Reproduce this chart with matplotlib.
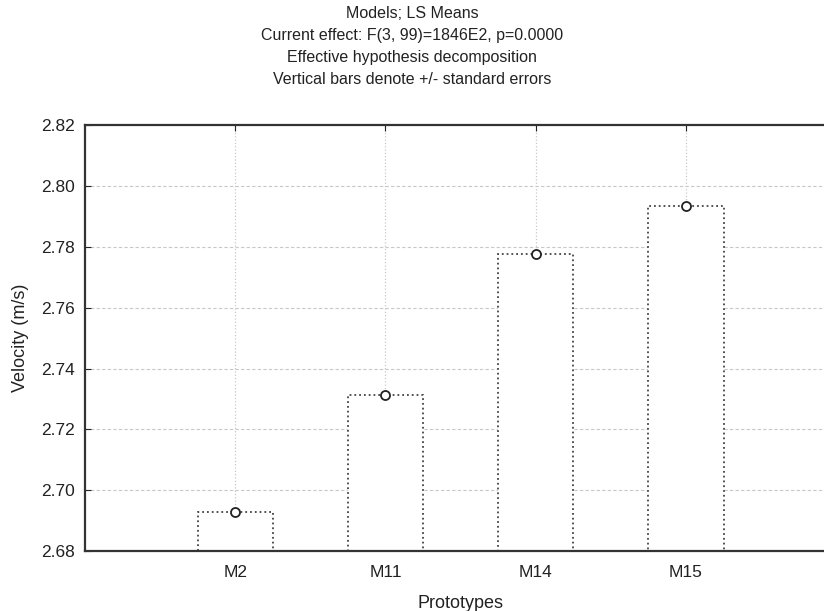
import numpy as np
import matplotlib.pyplot as plt

# LS means
models = ['M2', 'M11', 'M14', 'M15']
means = [2.6928, 2.7314, 2.7777, 2.7934]
std_err = [0.0004, 0.0004, 0.0004, 0.0004]
yticks = [2.68, 2.70, 2.72, 2.74, 2.76, 2.78, 2.80, 2.82]

title_lines = ['Models; LS Means',
               'Current effect: F(3, 99)=1846E2, p=0.0000',
               'Effective hypothesis decomposition',
               'Vertical bars denote +/- standard errors']

plt.rcParams['font.family'] = ['Liberation Sans', 'DejaVu Sans']

fig = plt.figure(figsize=(8.24, 6.11), dpi=100)
ax = fig.add_axes([0.103, 0.098, 0.912, 0.697])

x = np.arange(len(models))

# grid under the bars
for v in yticks[1:-1]:
    ax.axhline(v, color='#c8c8c8', linestyle=(0, (3, 2)), linewidth=0.8, zorder=0)
for xi in x:
    ax.axvline(xi, color='#c8c8c8', linestyle=':', linewidth=0.9, zorder=0)

ax.bar(x, means, width=0.5, bottom=0, color='white', edgecolor='#444444',
       linestyle=':', linewidth=1.3, zorder=2)
ax.errorbar(x, means, yerr=std_err, fmt='o', color='#222222', markerfacecolor='white',
            markeredgecolor='#222222', markersize=6.5, markeredgewidth=1.3,
            elinewidth=1.5, capsize=0, zorder=3)

ax.set_xlim(-1, 4)
ax.set_ylim(2.68, 2.82)
ax.set_xticks(x)
ax.set_xticklabels(models)
ax.set_yticks(yticks)
ax.set_yticklabels(['%.2f' % v for v in yticks])
ax.tick_params(direction='in', top=True, labelsize=12.5, colors='#222222', length=4)
ax.tick_params(axis='x', pad=10)
ax.tick_params(axis='y', pad=7)

for side in ['left', 'top', 'bottom']:
    ax.spines[side].set_linewidth(1.6)
    ax.spines[side].set_color('#333333')
ax.spines['right'].set_visible(False)

ax.set_xlabel('Prototypes', fontsize=13, color='#222222', labelpad=11)
ax.set_ylabel('Velocity (m/s)', fontsize=13, color='#222222', labelpad=9)

for i, line in enumerate(title_lines):
    fig.text(0.5, 1 - (14 + 21.7 * i) / 611, line, ha='center', va='center',
             fontsize=11.5, color='#222222')

fig.savefig('out.png', dpi=100)
